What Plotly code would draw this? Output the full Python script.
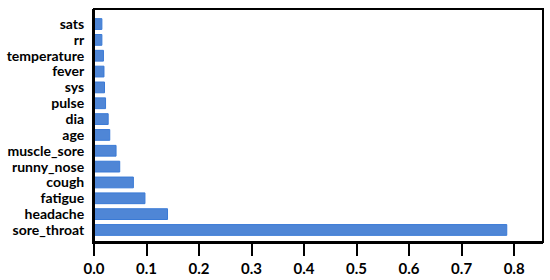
import plotly.graph_objects as go

features = ["sore_throat", "headache", "fatigue", "cough", "runny_nose", "muscle_sore",
            "age", "dia", "pulse", "sys", "fever", "temperature", "rr", "sats"]
importance = [0.786, 0.140, 0.097, 0.075, 0.049, 0.042,
              0.030, 0.027, 0.022, 0.020, 0.019, 0.018, 0.015, 0.015]
x_ticks = [0.0, 0.1, 0.2, 0.3, 0.4, 0.5, 0.6, 0.7, 0.8]
x_tick_labels = ["0.0", "0.1", "0.2", "0.3", "0.4", "0.5", "0.6", "0.7", "0.8"]

fig = go.Figure(go.Bar(
    x=importance, y=features, orientation="h", width=0.68,
    marker=dict(color="#4f86d6", line=dict(color="#3a7ad6", width=1)),
))

fig.update_layout(
    width=550, height=280,
    margin=dict(l=94, r=7, t=9, b=38),
    paper_bgcolor="white", plot_bgcolor="white",
    showlegend=False,
    font=dict(family="Lato", size=14, color="black"),
    shapes=[dict(type="rect", xref="paper", yref="paper", x0=0, x1=1, y0=0, y1=1,
                 line=dict(color="black", width=2), layer="above")],
)
fig.update_xaxes(
    range=[0, 0.855], tickmode="array", tickvals=x_ticks, ticktext=x_tick_labels,
    showgrid=False, zeroline=False, automargin=False,
    showline=True, linecolor="black", linewidth=2,
    ticks="outside", ticklen=12, tickwidth=2, tickcolor="black",
    tickfont=dict(family="Lato", size=15, color="black", weight="bold"),
)
fig.update_yaxes(
    range=[-0.76, 13.95], tickmode="array", tickvals=features, ticktext=features,
    showgrid=False, zeroline=False, automargin=False,
    showline=True, linecolor="black", linewidth=2,
    ticks="", ticklabelstandoff=5,
    tickfont=dict(family="Lato", size=14, color="black", weight="bold"),
)

fig.write_html(
    "out.html",
    config={"displayModeBar": False},
    post_script="document.body.style.margin='0';document.body.style.overflow='hidden';",
)
